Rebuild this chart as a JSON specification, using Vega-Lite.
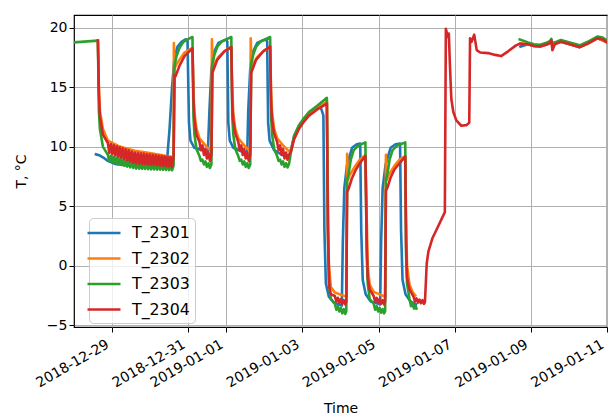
{
"$schema":"https://vega.github.io/schema/vega-lite/v6.json",
"width":533,"height":312,
"autosize":"none",
"padding":{"left":74,"top":15,"right":4,"bottom":90},
"background":"white",
"data":{"values":[
{"series":"T_2301","seg":1,"time":"2018-12-28T13:49","T":9.35},
{"series":"T_2301","seg":1,"time":"2018-12-28T16:19","T":9.25},
{"series":"T_2301","seg":1,"time":"2018-12-28T18:12","T":9.1},
{"series":"T_2301","seg":1,"time":"2018-12-28T21:20","T":8.8},
{"series":"T_2301","seg":1,"time":"2018-12-29T01:44","T":8.55},
{"series":"T_2301","seg":1,"time":"2018-12-29T11:09","T":8.4},
{"series":"T_2301","seg":1,"time":"2018-12-29T23:42","T":8.35},
{"series":"T_2301","seg":1,"time":"2018-12-30T10:22","T":8.35},
{"series":"T_2301","seg":1,"time":"2018-12-30T12:15","T":11.5},
{"series":"T_2301","seg":1,"time":"2018-12-30T13:49","T":15.0},
{"series":"T_2301","seg":1,"time":"2018-12-30T15:23","T":17.5},
{"series":"T_2301","seg":1,"time":"2018-12-30T17:16","T":18.4},
{"series":"T_2301","seg":1,"time":"2018-12-30T19:47","T":18.8},
{"series":"T_2301","seg":1,"time":"2018-12-30T22:17","T":19.0},
{"series":"T_2301","seg":1,"time":"2018-12-30T23:33","T":18.9},
{"series":"T_2301","seg":1,"time":"2018-12-31T00:29","T":12.0},
{"series":"T_2301","seg":1,"time":"2018-12-31T01:26","T":10.5},
{"series":"T_2301","seg":1,"time":"2018-12-31T03:56","T":9.9},
{"series":"T_2301","seg":1,"time":"2018-12-31T08:58","T":9.7},
{"series":"T_2301","seg":1,"time":"2018-12-31T12:25","T":9.6},
{"series":"T_2301","seg":1,"time":"2018-12-31T13:22","T":13.0},
{"series":"T_2301","seg":1,"time":"2018-12-31T14:37","T":16.5},
{"series":"T_2301","seg":1,"time":"2018-12-31T16:29","T":18.0},
{"series":"T_2301","seg":1,"time":"2018-12-31T19:00","T":18.7},
{"series":"T_2301","seg":1,"time":"2018-12-31T22:08","T":18.9},
{"series":"T_2301","seg":1,"time":"2019-01-01T00:02","T":19.0},
{"series":"T_2301","seg":1,"time":"2019-01-01T00:39","T":18.8},
{"series":"T_2301","seg":1,"time":"2019-01-01T01:17","T":12.0},
{"series":"T_2301","seg":1,"time":"2019-01-01T02:13","T":10.5},
{"series":"T_2301","seg":1,"time":"2019-01-01T04:25","T":9.9},
{"series":"T_2301","seg":1,"time":"2019-01-01T09:26","T":9.6},
{"series":"T_2301","seg":1,"time":"2019-01-01T13:13","T":9.5},
{"series":"T_2301","seg":1,"time":"2019-01-01T13:50","T":13.0},
{"series":"T_2301","seg":1,"time":"2019-01-01T15:05","T":16.5},
{"series":"T_2301","seg":1,"time":"2019-01-01T16:58","T":18.0},
{"series":"T_2301","seg":1,"time":"2019-01-01T19:29","T":18.7},
{"series":"T_2301","seg":1,"time":"2019-01-01T22:37","T":18.9},
{"series":"T_2301","seg":1,"time":"2019-01-02T01:08","T":19.0},
{"series":"T_2301","seg":1,"time":"2019-01-02T01:46","T":18.8},
{"series":"T_2301","seg":1,"time":"2019-01-02T02:23","T":12.0},
{"series":"T_2301","seg":1,"time":"2019-01-02T03:19","T":10.5},
{"series":"T_2301","seg":1,"time":"2019-01-02T06:09","T":9.7},
{"series":"T_2301","seg":1,"time":"2019-01-02T11:10","T":9.3},
{"series":"T_2301","seg":1,"time":"2019-01-02T15:34","T":9.2},
{"series":"T_2301","seg":1,"time":"2019-01-02T16:49","T":9.7},
{"series":"T_2301","seg":1,"time":"2019-01-02T18:42","T":10.8},
{"series":"T_2301","seg":1,"time":"2019-01-02T21:50","T":11.7},
{"series":"T_2301","seg":1,"time":"2019-01-03T00:59","T":12.3},
{"series":"T_2301","seg":1,"time":"2019-01-03T04:07","T":12.8},
{"series":"T_2301","seg":1,"time":"2019-01-03T09:08","T":13.3},
{"series":"T_2301","seg":1,"time":"2019-01-03T11:01","T":13.5},
{"series":"T_2301","seg":1,"time":"2019-01-03T12:17","T":13.0},
{"series":"T_2301","seg":1,"time":"2019-01-03T13:13","T":12.6},
{"series":"T_2301","seg":1,"time":"2019-01-03T13:51","T":3.0},
{"series":"T_2301","seg":1,"time":"2019-01-03T14:47","T":-1.5},
{"series":"T_2301","seg":1,"time":"2019-01-03T16:40","T":-2.6},
{"series":"T_2301","seg":1,"time":"2019-01-03T19:49","T":-3.1},
{"series":"T_2301","seg":1,"time":"2019-01-04T00:50","T":-3.35},
{"series":"T_2301","seg":1,"time":"2019-01-04T01:28","T":2.0},
{"series":"T_2301","seg":1,"time":"2019-01-04T02:24","T":6.5},
{"series":"T_2301","seg":1,"time":"2019-01-04T04:10","T":8.5},
{"series":"T_2301","seg":1,"time":"2019-01-04T07:17","T":9.9},
{"series":"T_2301","seg":1,"time":"2019-01-04T10:14","T":10.2},
{"series":"T_2301","seg":1,"time":"2019-01-04T12:26","T":10.25},
{"series":"T_2301","seg":1,"time":"2019-01-04T13:04","T":3.0},
{"series":"T_2301","seg":1,"time":"2019-01-04T14:01","T":-1.2},
{"series":"T_2301","seg":1,"time":"2019-01-04T15:53","T":-2.4},
{"series":"T_2301","seg":1,"time":"2019-01-04T19:02","T":-3.0},
{"series":"T_2301","seg":1,"time":"2019-01-05T00:59","T":-3.25},
{"series":"T_2301","seg":1,"time":"2019-01-05T01:37","T":2.0},
{"series":"T_2301","seg":1,"time":"2019-01-05T02:34","T":6.5},
{"series":"T_2301","seg":1,"time":"2019-01-05T04:26","T":8.5},
{"series":"T_2301","seg":1,"time":"2019-01-05T07:35","T":9.9},
{"series":"T_2301","seg":1,"time":"2019-01-05T10:43","T":10.2},
{"series":"T_2301","seg":1,"time":"2019-01-05T13:33","T":10.25},
{"series":"T_2301","seg":1,"time":"2019-01-05T14:10","T":3.0},
{"series":"T_2301","seg":1,"time":"2019-01-05T15:07","T":-1.2},
{"series":"T_2301","seg":1,"time":"2019-01-05T17:00","T":-2.4},
{"series":"T_2301","seg":1,"time":"2019-01-05T20:08","T":-3.0},
{"series":"T_2301","seg":1,"time":"2019-01-05T23:35","T":-3.25},
{"series":"T_2301","seg":2,"time":"2019-01-08T17:29","T":18.4},
{"series":"T_2301","seg":2,"time":"2019-01-08T22:11","T":18.6},
{"series":"T_2301","seg":2,"time":"2019-01-09T01:58","T":18.45},
{"series":"T_2301","seg":2,"time":"2019-01-09T05:43","T":18.4},
{"series":"T_2301","seg":2,"time":"2019-01-09T09:29","T":18.55},
{"series":"T_2301","seg":2,"time":"2019-01-09T12:00","T":18.7},
{"series":"T_2301","seg":2,"time":"2019-01-09T18:54","T":18.8},
{"series":"T_2301","seg":2,"time":"2019-01-10T00:33","T":18.6},
{"series":"T_2301","seg":2,"time":"2019-01-10T06:50","T":18.35},
{"series":"T_2301","seg":2,"time":"2019-01-10T11:51","T":18.65},
{"series":"T_2301","seg":2,"time":"2019-01-10T18:07","T":19.1},
{"series":"T_2301","seg":2,"time":"2019-01-11T00:00","T":18.75},

{"series":"T_2302","seg":1,"time":"2018-12-28T15:04","T":18.9},
{"series":"T_2302","seg":1,"time":"2018-12-28T15:41","T":15.0},
{"series":"T_2302","seg":1,"time":"2018-12-28T16:19","T":13.0},
{"series":"T_2302","seg":1,"time":"2018-12-28T18:12","T":11.5},
{"series":"T_2302","seg":1,"time":"2018-12-28T21:20","T":10.5},
{"series":"T_2302","seg":1,"time":"2018-12-29T04:52","T":10.0},
{"series":"T_2302","seg":1,"time":"2018-12-29T14:17","T":9.65},
{"series":"T_2302","seg":1,"time":"2018-12-29T23:42","T":9.45},
{"series":"T_2302","seg":1,"time":"2018-12-30T14:46","T":9.1},
{"series":"T_2302","seg":1,"time":"2018-12-30T14:57","T":18.7},
{"series":"T_2302","seg":1,"time":"2018-12-30T15:35","T":16.6},
{"series":"T_2302","seg":1,"time":"2018-12-30T16:38","T":16.9},
{"series":"T_2302","seg":1,"time":"2018-12-30T18:32","T":17.3},
{"series":"T_2302","seg":1,"time":"2018-12-30T21:40","T":17.9},
{"series":"T_2302","seg":1,"time":"2018-12-31T02:41","T":18.3},
{"series":"T_2302","seg":1,"time":"2018-12-31T03:19","T":14.5},
{"series":"T_2302","seg":1,"time":"2018-12-31T03:56","T":12.8},
{"series":"T_2302","seg":1,"time":"2018-12-31T05:12","T":11.5},
{"series":"T_2302","seg":1,"time":"2018-12-31T07:05","T":10.7},
{"series":"T_2302","seg":1,"time":"2018-12-31T10:51","T":10.1},
{"series":"T_2302","seg":1,"time":"2018-12-31T14:37","T":9.6},
{"series":"T_2302","seg":1,"time":"2018-12-31T14:56","T":19.0},
{"series":"T_2302","seg":1,"time":"2018-12-31T15:33","T":16.6},
{"series":"T_2302","seg":1,"time":"2018-12-31T16:29","T":17.0},
{"series":"T_2302","seg":1,"time":"2018-12-31T19:00","T":17.5},
{"series":"T_2302","seg":1,"time":"2018-12-31T22:46","T":18.0},
{"series":"T_2302","seg":1,"time":"2019-01-01T03:10","T":18.4},
{"series":"T_2302","seg":1,"time":"2019-01-01T03:47","T":14.5},
{"series":"T_2302","seg":1,"time":"2019-01-01T04:25","T":12.8},
{"series":"T_2302","seg":1,"time":"2019-01-01T05:40","T":11.5},
{"series":"T_2302","seg":1,"time":"2019-01-01T07:34","T":10.7},
{"series":"T_2302","seg":1,"time":"2019-01-01T11:19","T":10.1},
{"series":"T_2302","seg":1,"time":"2019-01-01T15:05","T":9.6},
{"series":"T_2302","seg":1,"time":"2019-01-01T15:24","T":19.1},
{"series":"T_2302","seg":1,"time":"2019-01-01T16:02","T":16.6},
{"series":"T_2302","seg":1,"time":"2019-01-01T16:58","T":17.0},
{"series":"T_2302","seg":1,"time":"2019-01-01T19:29","T":17.5},
{"series":"T_2302","seg":1,"time":"2019-01-01T23:15","T":18.0},
{"series":"T_2302","seg":1,"time":"2019-01-02T03:38","T":18.4},
{"series":"T_2302","seg":1,"time":"2019-01-02T04:16","T":14.5},
{"series":"T_2302","seg":1,"time":"2019-01-02T04:54","T":12.8},
{"series":"T_2302","seg":1,"time":"2019-01-02T06:09","T":11.5},
{"series":"T_2302","seg":1,"time":"2019-01-02T08:02","T":10.7},
{"series":"T_2302","seg":1,"time":"2019-01-02T11:48","T":10.1},
{"series":"T_2302","seg":1,"time":"2019-01-02T15:34","T":9.6},
{"series":"T_2302","seg":1,"time":"2019-01-02T16:49","T":9.8},
{"series":"T_2302","seg":1,"time":"2019-01-02T18:42","T":10.7},
{"series":"T_2302","seg":1,"time":"2019-01-02T21:50","T":11.6},
{"series":"T_2302","seg":1,"time":"2019-01-03T00:59","T":12.2},
{"series":"T_2302","seg":1,"time":"2019-01-03T04:07","T":12.7},
{"series":"T_2302","seg":1,"time":"2019-01-03T09:08","T":13.2},
{"series":"T_2302","seg":1,"time":"2019-01-03T15:25","T":13.8},
{"series":"T_2302","seg":1,"time":"2019-01-03T16:02","T":6.0},
{"series":"T_2302","seg":1,"time":"2019-01-03T16:40","T":0.0},
{"series":"T_2302","seg":1,"time":"2019-01-03T17:56","T":-1.8},
{"series":"T_2302","seg":1,"time":"2019-01-03T20:26","T":-2.25},
{"series":"T_2302","seg":1,"time":"2019-01-04T03:40","T":-2.6},
{"series":"T_2302","seg":1,"time":"2019-01-04T04:10","T":9.4},
{"series":"T_2302","seg":1,"time":"2019-01-04T04:47","T":7.2},
{"series":"T_2302","seg":1,"time":"2019-01-04T05:51","T":7.6},
{"series":"T_2302","seg":1,"time":"2019-01-04T09:26","T":8.4},
{"series":"T_2302","seg":1,"time":"2019-01-04T12:08","T":8.9},
{"series":"T_2302","seg":1,"time":"2019-01-04T15:42","T":9.3},
{"series":"T_2302","seg":1,"time":"2019-01-04T16:31","T":4.0},
{"series":"T_2302","seg":1,"time":"2019-01-04T17:09","T":0.0},
{"series":"T_2302","seg":1,"time":"2019-01-04T18:24","T":-1.6},
{"series":"T_2302","seg":1,"time":"2019-01-04T20:55","T":-2.2},
{"series":"T_2302","seg":1,"time":"2019-01-05T04:08","T":-2.6},
{"series":"T_2302","seg":1,"time":"2019-01-05T04:38","T":9.3},
{"series":"T_2302","seg":1,"time":"2019-01-05T05:16","T":7.2},
{"series":"T_2302","seg":1,"time":"2019-01-05T06:19","T":7.6},
{"series":"T_2302","seg":1,"time":"2019-01-05T10:05","T":8.4},
{"series":"T_2302","seg":1,"time":"2019-01-05T13:14","T":8.9},
{"series":"T_2302","seg":1,"time":"2019-01-05T16:49","T":9.2},
{"series":"T_2302","seg":1,"time":"2019-01-05T17:19","T":4.0},
{"series":"T_2302","seg":1,"time":"2019-01-05T17:56","T":0.0},
{"series":"T_2302","seg":1,"time":"2019-01-05T19:31","T":-1.6},
{"series":"T_2302","seg":1,"time":"2019-01-05T21:23","T":-2.2},
{"series":"T_2302","seg":1,"time":"2019-01-05T23:10","T":-2.5},
{"series":"T_2302","seg":2,"time":"2019-01-08T17:10","T":18.65},
{"series":"T_2302","seg":2,"time":"2019-01-08T22:11","T":18.6},
{"series":"T_2302","seg":2,"time":"2019-01-09T01:58","T":18.45},
{"series":"T_2302","seg":2,"time":"2019-01-09T05:43","T":18.4},
{"series":"T_2302","seg":2,"time":"2019-01-09T09:29","T":18.55},
{"series":"T_2302","seg":2,"time":"2019-01-09T12:00","T":18.7},
{"series":"T_2302","seg":2,"time":"2019-01-09T18:54","T":18.8},
{"series":"T_2302","seg":2,"time":"2019-01-10T00:33","T":18.6},
{"series":"T_2302","seg":2,"time":"2019-01-10T06:50","T":18.35},
{"series":"T_2302","seg":2,"time":"2019-01-10T11:51","T":18.65},
{"series":"T_2302","seg":2,"time":"2019-01-10T18:07","T":19.1},
{"series":"T_2302","seg":2,"time":"2019-01-11T00:00","T":18.75},

{"series":"T_2303","seg":1,"time":"2018-12-28T00:00","T":18.75},
{"series":"T_2303","seg":1,"time":"2018-12-28T15:04","T":18.9},
{"series":"T_2303","seg":1,"time":"2018-12-28T15:41","T":13.0},
{"series":"T_2303","seg":1,"time":"2018-12-28T16:19","T":11.5},
{"series":"T_2303","seg":1,"time":"2018-12-28T18:12","T":10.0},
{"series":"T_2303","seg":1,"time":"2018-12-28T21:21","T":9.3},
{"series":"T_2303","seg":1,"time":"2018-12-28T22:17","T":8.75},
{"series":"T_2303","seg":1,"time":"2018-12-28T23:14","T":9.22},
{"series":"T_2303","seg":1,"time":"2018-12-29T00:10","T":8.68},
{"series":"T_2303","seg":1,"time":"2018-12-29T01:07","T":9.14},
{"series":"T_2303","seg":1,"time":"2018-12-29T02:03","T":8.6},
{"series":"T_2303","seg":1,"time":"2018-12-29T02:59","T":9.07},
{"series":"T_2303","seg":1,"time":"2018-12-29T03:56","T":8.53},
{"series":"T_2303","seg":1,"time":"2018-12-29T04:52","T":8.99},
{"series":"T_2303","seg":1,"time":"2018-12-29T05:49","T":8.46},
{"series":"T_2303","seg":1,"time":"2018-12-29T06:45","T":8.91},
{"series":"T_2303","seg":1,"time":"2018-12-29T07:42","T":8.39},
{"series":"T_2303","seg":1,"time":"2018-12-29T08:38","T":8.83},
{"series":"T_2303","seg":1,"time":"2018-12-29T09:35","T":8.32},
{"series":"T_2303","seg":1,"time":"2018-12-29T10:31","T":8.76},
{"series":"T_2303","seg":1,"time":"2018-12-29T11:28","T":8.26},
{"series":"T_2303","seg":1,"time":"2018-12-29T12:24","T":8.68},
{"series":"T_2303","seg":1,"time":"2018-12-29T13:21","T":8.2},
{"series":"T_2303","seg":1,"time":"2018-12-29T14:17","T":8.6},
{"series":"T_2303","seg":1,"time":"2018-12-29T15:14","T":8.15},
{"series":"T_2303","seg":1,"time":"2018-12-29T16:10","T":8.58},
{"series":"T_2303","seg":1,"time":"2018-12-29T17:07","T":8.14},
{"series":"T_2303","seg":1,"time":"2018-12-29T18:03","T":8.57},
{"series":"T_2303","seg":1,"time":"2018-12-29T19:00","T":8.13},
{"series":"T_2303","seg":1,"time":"2018-12-29T19:56","T":8.55},
{"series":"T_2303","seg":1,"time":"2018-12-29T20:53","T":8.12},
{"series":"T_2303","seg":1,"time":"2018-12-29T21:49","T":8.54},
{"series":"T_2303","seg":1,"time":"2018-12-29T22:46","T":8.1},
{"series":"T_2303","seg":1,"time":"2018-12-29T23:42","T":8.52},
{"series":"T_2303","seg":1,"time":"2018-12-30T00:39","T":8.09},
{"series":"T_2303","seg":1,"time":"2018-12-30T01:35","T":8.51},
{"series":"T_2303","seg":1,"time":"2018-12-30T02:32","T":8.08},
{"series":"T_2303","seg":1,"time":"2018-12-30T03:28","T":8.49},
{"series":"T_2303","seg":1,"time":"2018-12-30T04:25","T":8.07},
{"series":"T_2303","seg":1,"time":"2018-12-30T05:21","T":8.48},
{"series":"T_2303","seg":1,"time":"2018-12-30T06:18","T":8.06},
{"series":"T_2303","seg":1,"time":"2018-12-30T07:14","T":8.46},
{"series":"T_2303","seg":1,"time":"2018-12-30T08:11","T":8.05},
{"series":"T_2303","seg":1,"time":"2018-12-30T09:07","T":8.45},
{"series":"T_2303","seg":1,"time":"2018-12-30T10:03","T":8.04},
{"series":"T_2303","seg":1,"time":"2018-12-30T11:00","T":8.43},
{"series":"T_2303","seg":1,"time":"2018-12-30T11:56","T":8.03},
{"series":"T_2303","seg":1,"time":"2018-12-30T12:53","T":8.42},
{"series":"T_2303","seg":1,"time":"2018-12-30T13:49","T":8.01},
{"series":"T_2303","seg":1,"time":"2018-12-30T14:46","T":8.4},
{"series":"T_2303","seg":1,"time":"2018-12-30T15:23","T":16.8},
{"series":"T_2303","seg":1,"time":"2018-12-30T16:38","T":17.6},
{"series":"T_2303","seg":1,"time":"2018-12-30T18:32","T":18.3},
{"series":"T_2303","seg":1,"time":"2018-12-30T21:02","T":18.8},
{"series":"T_2303","seg":1,"time":"2018-12-30T23:33","T":19.0},
{"series":"T_2303","seg":1,"time":"2018-12-31T02:41","T":19.2},
{"series":"T_2303","seg":1,"time":"2018-12-31T03:19","T":12.5},
{"series":"T_2303","seg":1,"time":"2018-12-31T03:56","T":11.0},
{"series":"T_2303","seg":1,"time":"2018-12-31T05:12","T":9.8},
{"series":"T_2303","seg":1,"time":"2018-12-31T07:05","T":9.2},
{"series":"T_2303","seg":1,"time":"2018-12-31T08:01","T":8.8},
{"series":"T_2303","seg":1,"time":"2018-12-31T08:58","T":8.9},
{"series":"T_2303","seg":1,"time":"2018-12-31T09:54","T":8.5},
{"series":"T_2303","seg":1,"time":"2018-12-31T10:51","T":8.75},
{"series":"T_2303","seg":1,"time":"2018-12-31T11:47","T":8.3},
{"series":"T_2303","seg":1,"time":"2018-12-31T12:44","T":8.6},
{"series":"T_2303","seg":1,"time":"2018-12-31T13:40","T":8.2},
{"series":"T_2303","seg":1,"time":"2018-12-31T14:37","T":8.5},
{"series":"T_2303","seg":1,"time":"2018-12-31T15:14","T":17.0},
{"series":"T_2303","seg":1,"time":"2018-12-31T16:29","T":17.7},
{"series":"T_2303","seg":1,"time":"2018-12-31T18:23","T":18.4},
{"series":"T_2303","seg":1,"time":"2018-12-31T20:53","T":18.8},
{"series":"T_2303","seg":1,"time":"2019-01-01T00:02","T":19.0},
{"series":"T_2303","seg":1,"time":"2019-01-01T03:10","T":19.2},
{"series":"T_2303","seg":1,"time":"2019-01-01T03:47","T":12.5},
{"series":"T_2303","seg":1,"time":"2019-01-01T04:25","T":11.0},
{"series":"T_2303","seg":1,"time":"2019-01-01T05:40","T":9.8},
{"series":"T_2303","seg":1,"time":"2019-01-01T07:33","T":9.2},
{"series":"T_2303","seg":1,"time":"2019-01-01T08:30","T":8.8},
{"series":"T_2303","seg":1,"time":"2019-01-01T09:26","T":8.9},
{"series":"T_2303","seg":1,"time":"2019-01-01T10:23","T":8.5},
{"series":"T_2303","seg":1,"time":"2019-01-01T11:19","T":8.75},
{"series":"T_2303","seg":1,"time":"2019-01-01T12:16","T":8.3},
{"series":"T_2303","seg":1,"time":"2019-01-01T13:12","T":8.6},
{"series":"T_2303","seg":1,"time":"2019-01-01T14:09","T":8.2},
{"series":"T_2303","seg":1,"time":"2019-01-01T15:05","T":8.5},
{"series":"T_2303","seg":1,"time":"2019-01-01T15:43","T":17.0},
{"series":"T_2303","seg":1,"time":"2019-01-01T16:58","T":17.7},
{"series":"T_2303","seg":1,"time":"2019-01-01T18:51","T":18.4},
{"series":"T_2303","seg":1,"time":"2019-01-01T21:22","T":18.8},
{"series":"T_2303","seg":1,"time":"2019-01-02T00:30","T":19.0},
{"series":"T_2303","seg":1,"time":"2019-01-02T03:38","T":19.2},
{"series":"T_2303","seg":1,"time":"2019-01-02T04:16","T":12.5},
{"series":"T_2303","seg":1,"time":"2019-01-02T04:54","T":11.0},
{"series":"T_2303","seg":1,"time":"2019-01-02T06:09","T":9.8},
{"series":"T_2303","seg":1,"time":"2019-01-02T08:02","T":9.2},
{"series":"T_2303","seg":1,"time":"2019-01-02T08:59","T":8.8},
{"series":"T_2303","seg":1,"time":"2019-01-02T09:55","T":8.9},
{"series":"T_2303","seg":1,"time":"2019-01-02T10:51","T":8.5},
{"series":"T_2303","seg":1,"time":"2019-01-02T11:48","T":8.75},
{"series":"T_2303","seg":1,"time":"2019-01-02T12:44","T":8.3},
{"series":"T_2303","seg":1,"time":"2019-01-02T13:41","T":8.6},
{"series":"T_2303","seg":1,"time":"2019-01-02T14:37","T":8.25},
{"series":"T_2303","seg":1,"time":"2019-01-02T15:34","T":8.55},
{"series":"T_2303","seg":1,"time":"2019-01-02T16:49","T":9.6},
{"series":"T_2303","seg":1,"time":"2019-01-02T18:42","T":10.9},
{"series":"T_2303","seg":1,"time":"2019-01-02T21:50","T":11.8},
{"series":"T_2303","seg":1,"time":"2019-01-03T00:59","T":12.4},
{"series":"T_2303","seg":1,"time":"2019-01-03T04:07","T":12.9},
{"series":"T_2303","seg":1,"time":"2019-01-03T09:08","T":13.4},
{"series":"T_2303","seg":1,"time":"2019-01-03T15:25","T":14.1},
{"series":"T_2303","seg":1,"time":"2019-01-03T16:02","T":3.0},
{"series":"T_2303","seg":1,"time":"2019-01-03T16:40","T":-1.5},
{"series":"T_2303","seg":1,"time":"2019-01-03T17:56","T":-2.8},
{"series":"T_2303","seg":1,"time":"2019-01-03T20:26","T":-3.2},
{"series":"T_2303","seg":1,"time":"2019-01-03T21:23","T":-3.7},
{"series":"T_2303","seg":1,"time":"2019-01-03T22:19","T":-3.4},
{"series":"T_2303","seg":1,"time":"2019-01-03T23:16","T":-3.85},
{"series":"T_2303","seg":1,"time":"2019-01-04T00:12","T":-3.55},
{"series":"T_2303","seg":1,"time":"2019-01-04T01:09","T":-4.0},
{"series":"T_2303","seg":1,"time":"2019-01-04T02:05","T":-3.65},
{"series":"T_2303","seg":1,"time":"2019-01-04T03:02","T":-4.05},
{"series":"T_2303","seg":1,"time":"2019-01-04T03:40","T":-3.8},
{"series":"T_2303","seg":1,"time":"2019-01-04T04:10","T":7.2},
{"series":"T_2303","seg":1,"time":"2019-01-04T05:13","T":7.8},
{"series":"T_2303","seg":1,"time":"2019-01-04T06:29","T":8.9},
{"series":"T_2303","seg":1,"time":"2019-01-04T08:22","T":9.7},
{"series":"T_2303","seg":1,"time":"2019-01-04T11:30","T":10.1},
{"series":"T_2303","seg":1,"time":"2019-01-04T15:42","T":10.35},
{"series":"T_2303","seg":1,"time":"2019-01-04T16:31","T":1.0},
{"series":"T_2303","seg":1,"time":"2019-01-04T17:09","T":-1.5},
{"series":"T_2303","seg":1,"time":"2019-01-04T18:24","T":-2.8},
{"series":"T_2303","seg":1,"time":"2019-01-04T20:55","T":-3.2},
{"series":"T_2303","seg":1,"time":"2019-01-04T21:51","T":-3.7},
{"series":"T_2303","seg":1,"time":"2019-01-04T22:48","T":-3.4},
{"series":"T_2303","seg":1,"time":"2019-01-04T23:44","T":-3.85},
{"series":"T_2303","seg":1,"time":"2019-01-05T00:41","T":-3.55},
{"series":"T_2303","seg":1,"time":"2019-01-05T01:37","T":-3.95},
{"series":"T_2303","seg":1,"time":"2019-01-05T02:34","T":-3.65},
{"series":"T_2303","seg":1,"time":"2019-01-05T03:30","T":-4.0},
{"series":"T_2303","seg":1,"time":"2019-01-05T04:08","T":-3.8},
{"series":"T_2303","seg":1,"time":"2019-01-05T04:38","T":7.2},
{"series":"T_2303","seg":1,"time":"2019-01-05T05:42","T":7.8},
{"series":"T_2303","seg":1,"time":"2019-01-05T06:57","T":8.9},
{"series":"T_2303","seg":1,"time":"2019-01-05T08:50","T":9.7},
{"series":"T_2303","seg":1,"time":"2019-01-05T11:59","T":10.1},
{"series":"T_2303","seg":1,"time":"2019-01-05T16:49","T":10.35},
{"series":"T_2303","seg":1,"time":"2019-01-05T17:19","T":1.0},
{"series":"T_2303","seg":1,"time":"2019-01-05T17:56","T":-1.5},
{"series":"T_2303","seg":1,"time":"2019-01-05T19:31","T":-2.8},
{"series":"T_2303","seg":1,"time":"2019-01-05T20:27","T":-3.4},
{"series":"T_2303","seg":1,"time":"2019-01-05T21:23","T":-3.15},
{"series":"T_2303","seg":1,"time":"2019-01-05T22:20","T":-3.6},
{"series":"T_2303","seg":1,"time":"2019-01-05T23:17","T":-3.35},
{"series":"T_2303","seg":1,"time":"2019-01-05T23:54","T":-3.6},
{"series":"T_2303","seg":2,"time":"2019-01-08T16:59","T":19.0},
{"series":"T_2303","seg":2,"time":"2019-01-08T22:11","T":18.75},
{"series":"T_2303","seg":2,"time":"2019-01-09T01:58","T":18.6},
{"series":"T_2303","seg":2,"time":"2019-01-09T05:43","T":18.55},
{"series":"T_2303","seg":2,"time":"2019-01-09T09:29","T":18.7},
{"series":"T_2303","seg":2,"time":"2019-01-09T12:00","T":18.85},
{"series":"T_2303","seg":2,"time":"2019-01-09T12:56","T":19.05},
{"series":"T_2303","seg":2,"time":"2019-01-09T13:34","T":18.3},
{"series":"T_2303","seg":2,"time":"2019-01-09T15:08","T":18.75},
{"series":"T_2303","seg":2,"time":"2019-01-09T18:54","T":18.95},
{"series":"T_2303","seg":2,"time":"2019-01-10T00:33","T":18.75},
{"series":"T_2303","seg":2,"time":"2019-01-10T06:50","T":18.5},
{"series":"T_2303","seg":2,"time":"2019-01-10T11:51","T":18.8},
{"series":"T_2303","seg":2,"time":"2019-01-10T18:07","T":19.25},
{"series":"T_2303","seg":2,"time":"2019-01-10T21:16","T":19.15},
{"series":"T_2303","seg":2,"time":"2019-01-11T00:00","T":18.9},

{"series":"T_2304","seg":1,"time":"2018-12-28T15:04","T":18.9},
{"series":"T_2304","seg":1,"time":"2018-12-28T15:41","T":14.5},
{"series":"T_2304","seg":1,"time":"2018-12-28T16:19","T":12.6},
{"series":"T_2304","seg":1,"time":"2018-12-28T18:12","T":11.0},
{"series":"T_2304","seg":1,"time":"2018-12-28T21:21","T":10.3},
{"series":"T_2304","seg":1,"time":"2018-12-28T22:17","T":9.45},
{"series":"T_2304","seg":1,"time":"2018-12-28T23:14","T":10.21},
{"series":"T_2304","seg":1,"time":"2018-12-29T00:10","T":9.35},
{"series":"T_2304","seg":1,"time":"2018-12-29T01:07","T":10.12},
{"series":"T_2304","seg":1,"time":"2018-12-29T02:03","T":9.25},
{"series":"T_2304","seg":1,"time":"2018-12-29T02:59","T":10.03},
{"series":"T_2304","seg":1,"time":"2018-12-29T03:56","T":9.15},
{"series":"T_2304","seg":1,"time":"2018-12-29T04:52","T":9.94},
{"series":"T_2304","seg":1,"time":"2018-12-29T05:49","T":9.05},
{"series":"T_2304","seg":1,"time":"2018-12-29T06:45","T":9.86},
{"series":"T_2304","seg":1,"time":"2018-12-29T07:42","T":8.95},
{"series":"T_2304","seg":1,"time":"2018-12-29T08:38","T":9.77},
{"series":"T_2304","seg":1,"time":"2018-12-29T09:35","T":8.85},
{"series":"T_2304","seg":1,"time":"2018-12-29T10:31","T":9.68},
{"series":"T_2304","seg":1,"time":"2018-12-29T11:28","T":8.75},
{"series":"T_2304","seg":1,"time":"2018-12-29T12:24","T":9.59},
{"series":"T_2304","seg":1,"time":"2018-12-29T13:21","T":8.65},
{"series":"T_2304","seg":1,"time":"2018-12-29T14:17","T":9.5},
{"series":"T_2304","seg":1,"time":"2018-12-29T15:14","T":8.59},
{"series":"T_2304","seg":1,"time":"2018-12-29T16:10","T":9.47},
{"series":"T_2304","seg":1,"time":"2018-12-29T17:07","T":8.57},
{"series":"T_2304","seg":1,"time":"2018-12-29T18:03","T":9.44},
{"series":"T_2304","seg":1,"time":"2018-12-29T19:00","T":8.55},
{"series":"T_2304","seg":1,"time":"2018-12-29T19:56","T":9.41},
{"series":"T_2304","seg":1,"time":"2018-12-29T20:53","T":8.52},
{"series":"T_2304","seg":1,"time":"2018-12-29T21:49","T":9.38},
{"series":"T_2304","seg":1,"time":"2018-12-29T22:46","T":8.5},
{"series":"T_2304","seg":1,"time":"2018-12-29T23:42","T":9.35},
{"series":"T_2304","seg":1,"time":"2018-12-30T00:39","T":8.48},
{"series":"T_2304","seg":1,"time":"2018-12-30T01:35","T":9.32},
{"series":"T_2304","seg":1,"time":"2018-12-30T02:32","T":8.45},
{"series":"T_2304","seg":1,"time":"2018-12-30T03:28","T":9.28},
{"series":"T_2304","seg":1,"time":"2018-12-30T04:25","T":8.43},
{"series":"T_2304","seg":1,"time":"2018-12-30T05:21","T":9.25},
{"series":"T_2304","seg":1,"time":"2018-12-30T06:18","T":8.4},
{"series":"T_2304","seg":1,"time":"2018-12-30T07:14","T":9.22},
{"series":"T_2304","seg":1,"time":"2018-12-30T08:11","T":8.38},
{"series":"T_2304","seg":1,"time":"2018-12-30T09:07","T":9.19},
{"series":"T_2304","seg":1,"time":"2018-12-30T10:03","T":8.35},
{"series":"T_2304","seg":1,"time":"2018-12-30T11:00","T":9.16},
{"series":"T_2304","seg":1,"time":"2018-12-30T11:56","T":8.33},
{"series":"T_2304","seg":1,"time":"2018-12-30T12:53","T":9.13},
{"series":"T_2304","seg":1,"time":"2018-12-30T13:49","T":8.3},
{"series":"T_2304","seg":1,"time":"2018-12-30T14:46","T":9.1},
{"series":"T_2304","seg":1,"time":"2018-12-30T15:23","T":16.0},
{"series":"T_2304","seg":1,"time":"2018-12-30T16:01","T":15.9},
{"series":"T_2304","seg":1,"time":"2018-12-30T18:32","T":16.8},
{"series":"T_2304","seg":1,"time":"2018-12-30T21:40","T":17.6},
{"series":"T_2304","seg":1,"time":"2018-12-31T02:41","T":18.25},
{"series":"T_2304","seg":1,"time":"2018-12-31T03:19","T":14.0},
{"series":"T_2304","seg":1,"time":"2018-12-31T03:56","T":12.3},
{"series":"T_2304","seg":1,"time":"2018-12-31T05:12","T":11.0},
{"series":"T_2304","seg":1,"time":"2018-12-31T07:05","T":10.4},
{"series":"T_2304","seg":1,"time":"2018-12-31T08:01","T":9.7},
{"series":"T_2304","seg":1,"time":"2018-12-31T08:58","T":10.1},
{"series":"T_2304","seg":1,"time":"2018-12-31T09:54","T":9.3},
{"series":"T_2304","seg":1,"time":"2018-12-31T10:51","T":9.8},
{"series":"T_2304","seg":1,"time":"2018-12-31T11:47","T":9.0},
{"series":"T_2304","seg":1,"time":"2018-12-31T12:44","T":9.5},
{"series":"T_2304","seg":1,"time":"2018-12-31T13:40","T":8.8},
{"series":"T_2304","seg":1,"time":"2018-12-31T14:37","T":9.3},
{"series":"T_2304","seg":1,"time":"2018-12-31T15:14","T":16.2},
{"series":"T_2304","seg":1,"time":"2018-12-31T18:23","T":17.3},
{"series":"T_2304","seg":1,"time":"2018-12-31T22:46","T":18.0},
{"series":"T_2304","seg":1,"time":"2019-01-01T03:10","T":18.35},
{"series":"T_2304","seg":1,"time":"2019-01-01T03:47","T":13.5},
{"series":"T_2304","seg":1,"time":"2019-01-01T04:25","T":12.2},
{"series":"T_2304","seg":1,"time":"2019-01-01T05:40","T":11.1},
{"series":"T_2304","seg":1,"time":"2019-01-01T07:33","T":10.4},
{"series":"T_2304","seg":1,"time":"2019-01-01T08:30","T":9.7},
{"series":"T_2304","seg":1,"time":"2019-01-01T09:26","T":10.1},
{"series":"T_2304","seg":1,"time":"2019-01-01T10:23","T":9.3},
{"series":"T_2304","seg":1,"time":"2019-01-01T11:19","T":9.8},
{"series":"T_2304","seg":1,"time":"2019-01-01T12:16","T":9.0},
{"series":"T_2304","seg":1,"time":"2019-01-01T13:12","T":9.5},
{"series":"T_2304","seg":1,"time":"2019-01-01T14:09","T":8.8},
{"series":"T_2304","seg":1,"time":"2019-01-01T15:05","T":9.3},
{"series":"T_2304","seg":1,"time":"2019-01-01T15:43","T":16.2},
{"series":"T_2304","seg":1,"time":"2019-01-01T18:51","T":17.3},
{"series":"T_2304","seg":1,"time":"2019-01-01T23:15","T":18.0},
{"series":"T_2304","seg":1,"time":"2019-01-02T03:38","T":18.4},
{"series":"T_2304","seg":1,"time":"2019-01-02T04:16","T":13.5},
{"series":"T_2304","seg":1,"time":"2019-01-02T04:54","T":12.2},
{"series":"T_2304","seg":1,"time":"2019-01-02T06:09","T":11.1},
{"series":"T_2304","seg":1,"time":"2019-01-02T08:02","T":10.4},
{"series":"T_2304","seg":1,"time":"2019-01-02T08:59","T":9.7},
{"series":"T_2304","seg":1,"time":"2019-01-02T09:55","T":10.1},
{"series":"T_2304","seg":1,"time":"2019-01-02T10:51","T":9.3},
{"series":"T_2304","seg":1,"time":"2019-01-02T11:48","T":9.8},
{"series":"T_2304","seg":1,"time":"2019-01-02T12:44","T":9.0},
{"series":"T_2304","seg":1,"time":"2019-01-02T13:41","T":9.5},
{"series":"T_2304","seg":1,"time":"2019-01-02T14:37","T":8.9},
{"series":"T_2304","seg":1,"time":"2019-01-02T15:34","T":9.3},
{"series":"T_2304","seg":1,"time":"2019-01-02T16:49","T":9.6},
{"series":"T_2304","seg":1,"time":"2019-01-02T18:42","T":10.6},
{"series":"T_2304","seg":1,"time":"2019-01-02T21:50","T":11.5},
{"series":"T_2304","seg":1,"time":"2019-01-03T00:59","T":12.1},
{"series":"T_2304","seg":1,"time":"2019-01-03T04:07","T":12.6},
{"series":"T_2304","seg":1,"time":"2019-01-03T09:08","T":13.1},
{"series":"T_2304","seg":1,"time":"2019-01-03T15:25","T":13.6},
{"series":"T_2304","seg":1,"time":"2019-01-03T16:02","T":3.0},
{"series":"T_2304","seg":1,"time":"2019-01-03T16:59","T":-1.8},
{"series":"T_2304","seg":1,"time":"2019-01-03T17:56","T":-2.4},
{"series":"T_2304","seg":1,"time":"2019-01-03T20:26","T":-2.55},
{"series":"T_2304","seg":1,"time":"2019-01-03T21:23","T":-3.0},
{"series":"T_2304","seg":1,"time":"2019-01-03T22:19","T":-2.7},
{"series":"T_2304","seg":1,"time":"2019-01-03T23:16","T":-3.1},
{"series":"T_2304","seg":1,"time":"2019-01-04T00:12","T":-2.8},
{"series":"T_2304","seg":1,"time":"2019-01-04T01:09","T":-3.2},
{"series":"T_2304","seg":1,"time":"2019-01-04T02:05","T":-2.9},
{"series":"T_2304","seg":1,"time":"2019-01-04T03:02","T":-3.25},
{"series":"T_2304","seg":1,"time":"2019-01-04T03:40","T":-3.0},
{"series":"T_2304","seg":1,"time":"2019-01-04T04:10","T":6.2},
{"series":"T_2304","seg":1,"time":"2019-01-04T05:13","T":6.5},
{"series":"T_2304","seg":1,"time":"2019-01-04T07:06","T":7.3},
{"series":"T_2304","seg":1,"time":"2019-01-04T09:26","T":8.0},
{"series":"T_2304","seg":1,"time":"2019-01-04T12:08","T":8.6},
{"series":"T_2304","seg":1,"time":"2019-01-04T15:42","T":9.2},
{"series":"T_2304","seg":1,"time":"2019-01-04T16:31","T":2.0},
{"series":"T_2304","seg":1,"time":"2019-01-04T17:09","T":-1.0},
{"series":"T_2304","seg":1,"time":"2019-01-04T18:24","T":-2.0},
{"series":"T_2304","seg":1,"time":"2019-01-04T20:55","T":-2.55},
{"series":"T_2304","seg":1,"time":"2019-01-04T21:51","T":-3.0},
{"series":"T_2304","seg":1,"time":"2019-01-04T22:48","T":-2.7},
{"series":"T_2304","seg":1,"time":"2019-01-04T23:44","T":-3.1},
{"series":"T_2304","seg":1,"time":"2019-01-05T00:41","T":-2.8},
{"series":"T_2304","seg":1,"time":"2019-01-05T01:37","T":-3.2},
{"series":"T_2304","seg":1,"time":"2019-01-05T02:34","T":-2.9},
{"series":"T_2304","seg":1,"time":"2019-01-05T03:30","T":-3.25},
{"series":"T_2304","seg":1,"time":"2019-01-05T04:08","T":-3.0},
{"series":"T_2304","seg":1,"time":"2019-01-05T04:38","T":6.3},
{"series":"T_2304","seg":1,"time":"2019-01-05T05:42","T":6.6},
{"series":"T_2304","seg":1,"time":"2019-01-05T07:35","T":7.4},
{"series":"T_2304","seg":1,"time":"2019-01-05T10:05","T":8.1},
{"series":"T_2304","seg":1,"time":"2019-01-05T13:14","T":8.6},
{"series":"T_2304","seg":1,"time":"2019-01-05T16:49","T":9.15},
{"series":"T_2304","seg":1,"time":"2019-01-05T17:19","T":2.0},
{"series":"T_2304","seg":1,"time":"2019-01-05T17:56","T":-1.0},
{"series":"T_2304","seg":1,"time":"2019-01-05T19:31","T":-2.0},
{"series":"T_2304","seg":1,"time":"2019-01-05T22:01","T":-2.6},
{"series":"T_2304","seg":1,"time":"2019-01-05T22:57","T":-3.0},
{"series":"T_2304","seg":1,"time":"2019-01-05T23:54","T":-2.75},
{"series":"T_2304","seg":1,"time":"2019-01-06T00:50","T":-3.1},
{"series":"T_2304","seg":1,"time":"2019-01-06T01:47","T":-2.85},
{"series":"T_2304","seg":1,"time":"2019-01-06T02:43","T":-3.15},
{"series":"T_2304","seg":1,"time":"2019-01-06T03:40","T":-2.9},
{"series":"T_2304","seg":1,"time":"2019-01-06T04:36","T":-3.2},
{"series":"T_2304","seg":1,"time":"2019-01-06T05:14","T":-3.05},
{"series":"T_2304","seg":1,"time":"2019-01-06T06:22","T":0.2},
{"series":"T_2304","seg":1,"time":"2019-01-06T07:26","T":1.2},
{"series":"T_2304","seg":1,"time":"2019-01-06T09:56","T":2.3},
{"series":"T_2304","seg":1,"time":"2019-01-06T12:27","T":3.0},
{"series":"T_2304","seg":1,"time":"2019-01-06T17:47","T":4.5},
{"series":"T_2304","seg":1,"time":"2019-01-06T18:25","T":19.9},
{"series":"T_2304","seg":1,"time":"2019-01-06T19:40","T":19.2},
{"series":"T_2304","seg":1,"time":"2019-01-06T20:18","T":19.5},
{"series":"T_2304","seg":1,"time":"2019-01-06T20:56","T":17.0},
{"series":"T_2304","seg":1,"time":"2019-01-06T21:52","T":14.0},
{"series":"T_2304","seg":1,"time":"2019-01-06T23:08","T":12.9},
{"series":"T_2304","seg":1,"time":"2019-01-07T01:01","T":12.2},
{"series":"T_2304","seg":1,"time":"2019-01-07T04:09","T":11.75},
{"series":"T_2304","seg":1,"time":"2019-01-07T07:17","T":11.8},
{"series":"T_2304","seg":1,"time":"2019-01-07T09:10","T":12.0},
{"series":"T_2304","seg":1,"time":"2019-01-07T09:40","T":19.1},
{"series":"T_2304","seg":1,"time":"2019-01-07T10:37","T":18.8},
{"series":"T_2304","seg":1,"time":"2019-01-07T12:18","T":19.4},
{"series":"T_2304","seg":1,"time":"2019-01-07T13:52","T":18.1},
{"series":"T_2304","seg":1,"time":"2019-01-07T16:04","T":17.9},
{"series":"T_2304","seg":1,"time":"2019-01-07T21:06","T":17.85},
{"series":"T_2304","seg":1,"time":"2019-01-08T01:29","T":17.7},
{"series":"T_2304","seg":1,"time":"2019-01-08T05:15","T":17.6},
{"series":"T_2304","seg":1,"time":"2019-01-08T09:39","T":18.0},
{"series":"T_2304","seg":1,"time":"2019-01-08T14:40","T":18.5},
{"series":"T_2304","seg":1,"time":"2019-01-08T17:10","T":18.65},
{"series":"T_2304","seg":1,"time":"2019-01-08T22:11","T":18.6},
{"series":"T_2304","seg":1,"time":"2019-01-09T01:58","T":18.45},
{"series":"T_2304","seg":1,"time":"2019-01-09T05:43","T":18.4},
{"series":"T_2304","seg":1,"time":"2019-01-09T09:29","T":18.55},
{"series":"T_2304","seg":1,"time":"2019-01-09T12:00","T":18.7},
{"series":"T_2304","seg":1,"time":"2019-01-09T12:56","T":18.95},
{"series":"T_2304","seg":1,"time":"2019-01-09T13:34","T":18.1},
{"series":"T_2304","seg":1,"time":"2019-01-09T15:08","T":18.6},
{"series":"T_2304","seg":1,"time":"2019-01-09T18:54","T":18.8},
{"series":"T_2304","seg":1,"time":"2019-01-10T00:33","T":18.6},
{"series":"T_2304","seg":1,"time":"2019-01-10T06:50","T":18.35},
{"series":"T_2304","seg":1,"time":"2019-01-10T11:51","T":18.65},
{"series":"T_2304","seg":1,"time":"2019-01-10T18:07","T":19.1},
{"series":"T_2304","seg":1,"time":"2019-01-10T21:16","T":19.0},
{"series":"T_2304","seg":1,"time":"2019-01-11T00:00","T":18.75}
]},
"mark":{"type":"line","strokeWidth":2.6,"clip":true,"strokeJoin":"round","strokeCap":"square"},
"encoding":{
"x":{"field":"time","type":"temporal","title":"Time",
"scale":{"domain":[{"year":2018,"month":12,"date":28},{"year":2019,"month":1,"date":11}]},
"axis":{"format":"%Y-%m-%d","labelAngle":-30,"labelAlign":"right","labelBaseline":"top","labelPadding":5,"labelOffset":-8,"titlePadding":12,"labelOverlap":false,"labelFlush":false,"labelBound":false,
"values":[{"year":2018,"month":12,"date":29},{"year":2018,"month":12,"date":31},{"year":2019,"month":1,"date":1},{"year":2019,"month":1,"date":3},{"year":2019,"month":1,"date":5},{"year":2019,"month":1,"date":7},{"year":2019,"month":1,"date":9},{"year":2019,"month":1,"date":11}]}},
"y":{"field":"T","type":"quantitative","title":"T, °C",
"scale":{"domain":[-5.15,21.05],"nice":false,"zero":false},
"axis":{"values":[-5,0,5,10,15,20],"titlePadding":18}},
"color":{"field":"series","type":"nominal","title":null,
"scale":{"domain":["T_2301","T_2302","T_2303","T_2304"],"range":["#1f77b4","#ff7f0e","#2ca02c","#d62728"]},
"legend":{"orient":"none","legendX":15,"legendY":203,"symbolType":"M-2,0L2,0","symbolSize":272,"symbolStrokeWidth":2.6,"labelFontSize":15.8,"labelFont":"DejaVu Sans","labelColor":"black","labelOffset":18,"padding":5,"fillColor":"rgba(255,255,255,0.8)","strokeColor":"#cccccc","cornerRadius":4,"rowPadding":7.5}},
"detail":{"field":"seg","type":"nominal"}
},
"config":{
"view":{"stroke":"black","strokeWidth":1.2},
"axis":{"grid":true,"gridColor":"#b0b0b0","gridWidth":1,"domain":false,"tickColor":"black","tickSize":5,"tickWidth":1,
"labelFont":"DejaVu Sans","labelFontSize":14,"labelColor":"black","titleFont":"DejaVu Sans","titleFontSize":14,"titleFontWeight":"normal","titleColor":"black"}
}
}
